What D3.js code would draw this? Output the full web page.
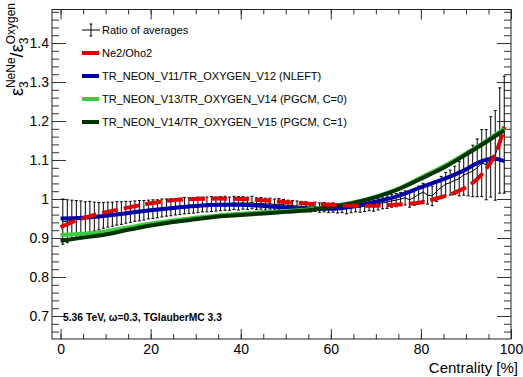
<!DOCTYPE html>
<html>
<head>
<meta charset="utf-8">
<script src="https://cdn.jsdelivr.net/npm/d3@7"></script>
<style>
  body { margin: 0; background: #fff; }
  text { font-family: "Liberation Sans", Arial, Helvetica, sans-serif; }
</style>
</head>
<body>
<div id="chart"></div>
<script>
// ratio of averages, 1% centrality bins
var centers = d3.range(0.5, 99, 1);
var ratio = [
  0.942, 0.943, 0.946, 0.948, 0.950, 0.951, 0.954, 0.955, 0.956, 0.958,
  0.960, 0.961, 0.963, 0.964, 0.966, 0.967, 0.969, 0.970, 0.971, 0.973,
  0.974, 0.975, 0.977, 0.978, 0.979, 0.980, 0.981, 0.983, 0.983, 0.984,
  0.985, 0.986, 0.986, 0.987, 0.987, 0.988, 0.989, 0.988, 0.990, 0.989,
  0.990, 0.989, 0.991, 0.988, 0.989, 0.987, 0.988, 0.986, 0.987, 0.985,
  0.984, 0.983, 0.982, 0.981, 0.980, 0.979, 0.980, 0.978, 0.979, 0.977,
  0.978, 0.976, 0.977, 0.975, 0.978, 0.980, 0.979, 0.982, 0.984, 0.983,
  0.987, 0.990, 0.992, 0.995, 0.997, 1.000, 1.003, 0.998, 1.004, 1.012,
  1.018, 1.010, 1.008, 1.020, 1.030, 1.038, 1.042, 1.048, 1.052, 1.062,
  1.066, 1.072, 1.080, 1.092, 1.088, 1.108, 1.112, 1.150, 1.165
];
var ratioErr = [
  0.058, 0.055, 0.051, 0.048, 0.045, 0.042, 0.040, 0.037, 0.035, 0.033,
  0.032, 0.031, 0.030, 0.029, 0.028, 0.027, 0.026, 0.026, 0.025, 0.024,
  0.024, 0.023, 0.023, 0.022, 0.022, 0.021, 0.021, 0.021, 0.020, 0.020,
  0.020, 0.019, 0.019, 0.019, 0.018, 0.018, 0.018, 0.017, 0.017, 0.017,
  0.016, 0.016, 0.016, 0.015, 0.015, 0.015, 0.014, 0.014, 0.014, 0.014,
  0.013, 0.013, 0.013, 0.013, 0.013, 0.012, 0.012, 0.012, 0.012, 0.012,
  0.012, 0.012, 0.012, 0.013, 0.013, 0.013, 0.013, 0.014, 0.014, 0.014,
  0.015, 0.015, 0.016, 0.016, 0.017, 0.017, 0.018, 0.019, 0.020, 0.021,
  0.022, 0.023, 0.025, 0.026, 0.028, 0.030, 0.032, 0.036, 0.044, 0.052,
  0.058, 0.066, 0.074, 0.086, 0.090, 0.103, 0.115, 0.135, 0.150
];

// smooth model curves
var redX = [0, 5, 10, 15, 20, 25, 30, 35, 40, 45, 50, 55, 60, 65, 70, 75, 80, 84, 87, 90, 92, 94, 96, 97.5, 98.5];
var redY = [0.928, 0.951, 0.966, 0.978, 0.989, 0.997, 1.000, 1.001, 1.000, 0.997, 0.992, 0.988, 0.985, 0.983, 0.983, 0.986, 0.991, 1.003, 1.014, 1.030, 1.046, 1.070, 1.104, 1.145, 1.185];

var blueX = [0, 5, 10, 15, 20, 25, 30, 35, 40, 45, 50, 55, 60, 65, 70, 75, 80, 85, 88, 90, 92, 94, 96, 97.5, 98.5];
var blueY = [0.950, 0.952, 0.957, 0.964, 0.971, 0.977, 0.982, 0.985, 0.985, 0.982, 0.978, 0.975, 0.975, 0.981, 0.993, 1.008, 1.030, 1.051, 1.065, 1.076, 1.089, 1.099, 1.104, 1.101, 1.097];

var greenX = [0, 5, 10, 15, 20, 25, 30, 35, 40, 45, 50, 55, 60, 65, 70, 75, 80, 85, 90, 95, 98.5];
var greenY = [0.908, 0.911, 0.917, 0.927, 0.937, 0.945, 0.952, 0.958, 0.962, 0.966, 0.969, 0.973, 0.981, 0.991, 1.006, 1.027, 1.055, 1.084, 1.117, 1.153, 1.181];

var dgreenX = [0, 5, 10, 15, 20, 25, 30, 35, 40, 45, 50, 55, 60, 65, 70, 75, 80, 85, 90, 95, 98.5];
var dgreenY = [0.893, 0.901, 0.909, 0.921, 0.932, 0.941, 0.948, 0.955, 0.959, 0.963, 0.967, 0.971, 0.980, 0.990, 1.005, 1.025, 1.052, 1.080, 1.114, 1.150, 1.176];

var xMajor = [0, 20, 40, 60, 80, 100];
var yMajor = [0.7, 0.8, 0.9, 1.0, 1.1, 1.2, 1.3, 1.4];

var legendLabels = [
  "Ratio of averages",
  "Ne2/Oho2",
  "TR_NEON_V11/TR_OXYGEN_V12 (NLEFT)",
  "TR_NEON_V13/TR_OXYGEN_V14 (PGCM, C=0)",
  "TR_NEON_V14/TR_OXYGEN_V15 (PGCM, C=1)"
];

var W = 523, H = 377;
var L = 52, R = 511, T = 9.5, B = 339;

var svg = d3.select("#chart").append("svg").attr("width", W).attr("height", H);

var x = d3.scaleLinear().domain([-1.9, 100]).range([L, R]);
var y = d3.scaleLinear().domain([0.641, 1.486]).range([B, T]);

var xMinor = d3.range(0, 101, 5);
var yMinor = d3.range(0.66, 1.481, 0.02);

// axes
var gx = svg.append("g").attr("transform", "translate(0," + B + ")")
  .call(d3.axisBottom(x).tickValues(xMinor).tickSizeInner(-5).tickSizeOuter(0).tickFormat(""));
gx.append("g").call(d3.axisBottom(x).tickValues(xMajor).tickSizeInner(-10).tickSizeOuter(0).tickPadding(5).tickFormat(d3.format("d")));
var gxt = svg.append("g").attr("transform", "translate(0," + T + ")")
  .call(d3.axisTop(x).tickValues(xMinor).tickSizeInner(-5).tickSizeOuter(0).tickFormat(""));
gxt.append("g").call(d3.axisTop(x).tickValues(xMajor).tickSizeInner(-10).tickSizeOuter(0).tickFormat(""));

var gy = svg.append("g").attr("transform", "translate(" + L + ",0)")
  .call(d3.axisLeft(y).tickValues(yMinor).tickSizeInner(-7).tickSizeOuter(0).tickFormat(""));
gy.append("g").call(d3.axisLeft(y).tickValues(yMajor).tickSizeInner(-14).tickSizeOuter(0).tickPadding(3).tickFormat(d3.format("")));
var gyr = svg.append("g").attr("transform", "translate(" + R + ",0)")
  .call(d3.axisRight(y).tickValues(yMinor).tickSizeInner(-7).tickSizeOuter(0).tickFormat(""));
gyr.append("g").call(d3.axisRight(y).tickValues(yMajor).tickSizeInner(-14).tickSizeOuter(0).tickFormat(""));

svg.selectAll(".domain").remove();
svg.selectAll(".tick line").attr("stroke", "#333");
svg.selectAll(".tick text").attr("font-size", 14).attr("fill", "#000")
  .attr("font-family", "'Liberation Sans', Arial, sans-serif");

svg.append("rect").attr("x", L).attr("y", T).attr("width", R - L).attr("height", B - T)
  .attr("fill", "none").attr("stroke", "#222").attr("stroke-width", 1);

// ratio of averages
var pts = centers.map(function(c, i) { return { x: c, y: ratio[i], e: ratioErr[i] }; });
var bars = svg.append("g").attr("stroke", "#000").attr("stroke-width", 1);
bars.selectAll("line.v").data(pts).enter().append("line")
  .attr("x1", function(d) { return x(d.x); }).attr("x2", function(d) { return x(d.x); })
  .attr("y1", function(d) { return y(d.y + d.e); }).attr("y2", function(d) { return y(d.y - d.e); });
bars.selectAll("line.ct").data(pts).enter().append("line")
  .attr("x1", function(d) { return x(d.x) - 1.5; }).attr("x2", function(d) { return x(d.x) + 1.5; })
  .attr("y1", function(d) { return y(d.y + d.e); }).attr("y2", function(d) { return y(d.y + d.e); });
bars.selectAll("line.cb").data(pts).enter().append("line")
  .attr("x1", function(d) { return x(d.x) - 1.5; }).attr("x2", function(d) { return x(d.x) + 1.5; })
  .attr("y1", function(d) { return y(d.y - d.e); }).attr("y2", function(d) { return y(d.y - d.e); });
svg.append("path").datum(pts).attr("fill", "none").attr("stroke", "#000").attr("stroke-width", 1)
  .attr("d", d3.line().x(function(d) { return x(d.x); }).y(function(d) { return y(d.y); }));

var curve = d3.line().curve(d3.curveMonotoneX)
  .x(function(d) { return x(d[0]); }).y(function(d) { return y(d[1]); });

var series = [
  { xs: blueX, ys: blueY, color: "#0000a8", dash: null },
  { xs: greenX, ys: greenY, color: "#3dcc3d", dash: null },
  { xs: dgreenX, ys: dgreenY, color: "#003300", dash: null },
  { xs: redX, ys: redY, color: "#e00000", dash: "16,6" }
];
series.forEach(function(s) {
  svg.append("path").datum(d3.zip(s.xs, s.ys))
    .attr("fill", "none").attr("stroke", s.color).attr("stroke-width", 4)
    .attr("stroke-dasharray", s.dash).attr("d", curve);
});

// legend
var legColors = [null, "#e00000", "#0000a8", "#3dcc3d", "#003300"];
var leg = svg.append("g");
legendLabels.forEach(function(lab, i) {
  var ly = 30 + i * 23;
  if (i === 0) {
    leg.append("line").attr("x1", 82).attr("x2", 100).attr("y1", ly).attr("y2", ly).attr("stroke", "#000");
    leg.append("line").attr("x1", 91).attr("x2", 91).attr("y1", ly - 6).attr("y2", ly + 6).attr("stroke", "#000");
    leg.append("line").attr("x1", 89.5).attr("x2", 92.5).attr("y1", ly - 6).attr("y2", ly - 6).attr("stroke", "#000");
    leg.append("line").attr("x1", 89.5).attr("x2", 92.5).attr("y1", ly + 6).attr("y2", ly + 6).attr("stroke", "#000");
  } else {
    leg.append("line").attr("x1", 82).attr("x2", 99).attr("y1", ly).attr("y2", ly)
      .attr("stroke", legColors[i]).attr("stroke-width", 4);
  }
  leg.append("text").attr("x", 102).attr("y", ly + 4).attr("font-size", 11).text(lab);
});

// annotation
svg.append("text").attr("x", 63).attr("y", 320.5).attr("font-size", 10.3).attr("font-weight", "bold")
  .text("5.36 TeV, \u03c9=0.3, TGlauberMC 3.3");

// axis titles
svg.append("text").attr("x", 518).attr("y", 373).attr("text-anchor", "end").attr("font-size", 15)
  .text("Centrality [%]");

var yl = svg.append("text").attr("transform", "translate(23,3) rotate(-90)")
  .attr("text-anchor", "end").attr("font-size", 18);
yl.append("tspan").text("\u03b5");
yl.append("tspan").attr("font-size", 12).attr("dy", 5).text("3");
yl.append("tspan").attr("font-size", 12).attr("dx", -6.7).attr("dy", -13).text("NeNe");
yl.append("tspan").attr("dy", 8).text("/\u03b5");
yl.append("tspan").attr("font-size", 12).attr("dy", 5).text("3");
yl.append("tspan").attr("font-size", 12).attr("dx", -6.7).attr("dy", -13).text("Oxygen");
</script>
</body>
</html>
